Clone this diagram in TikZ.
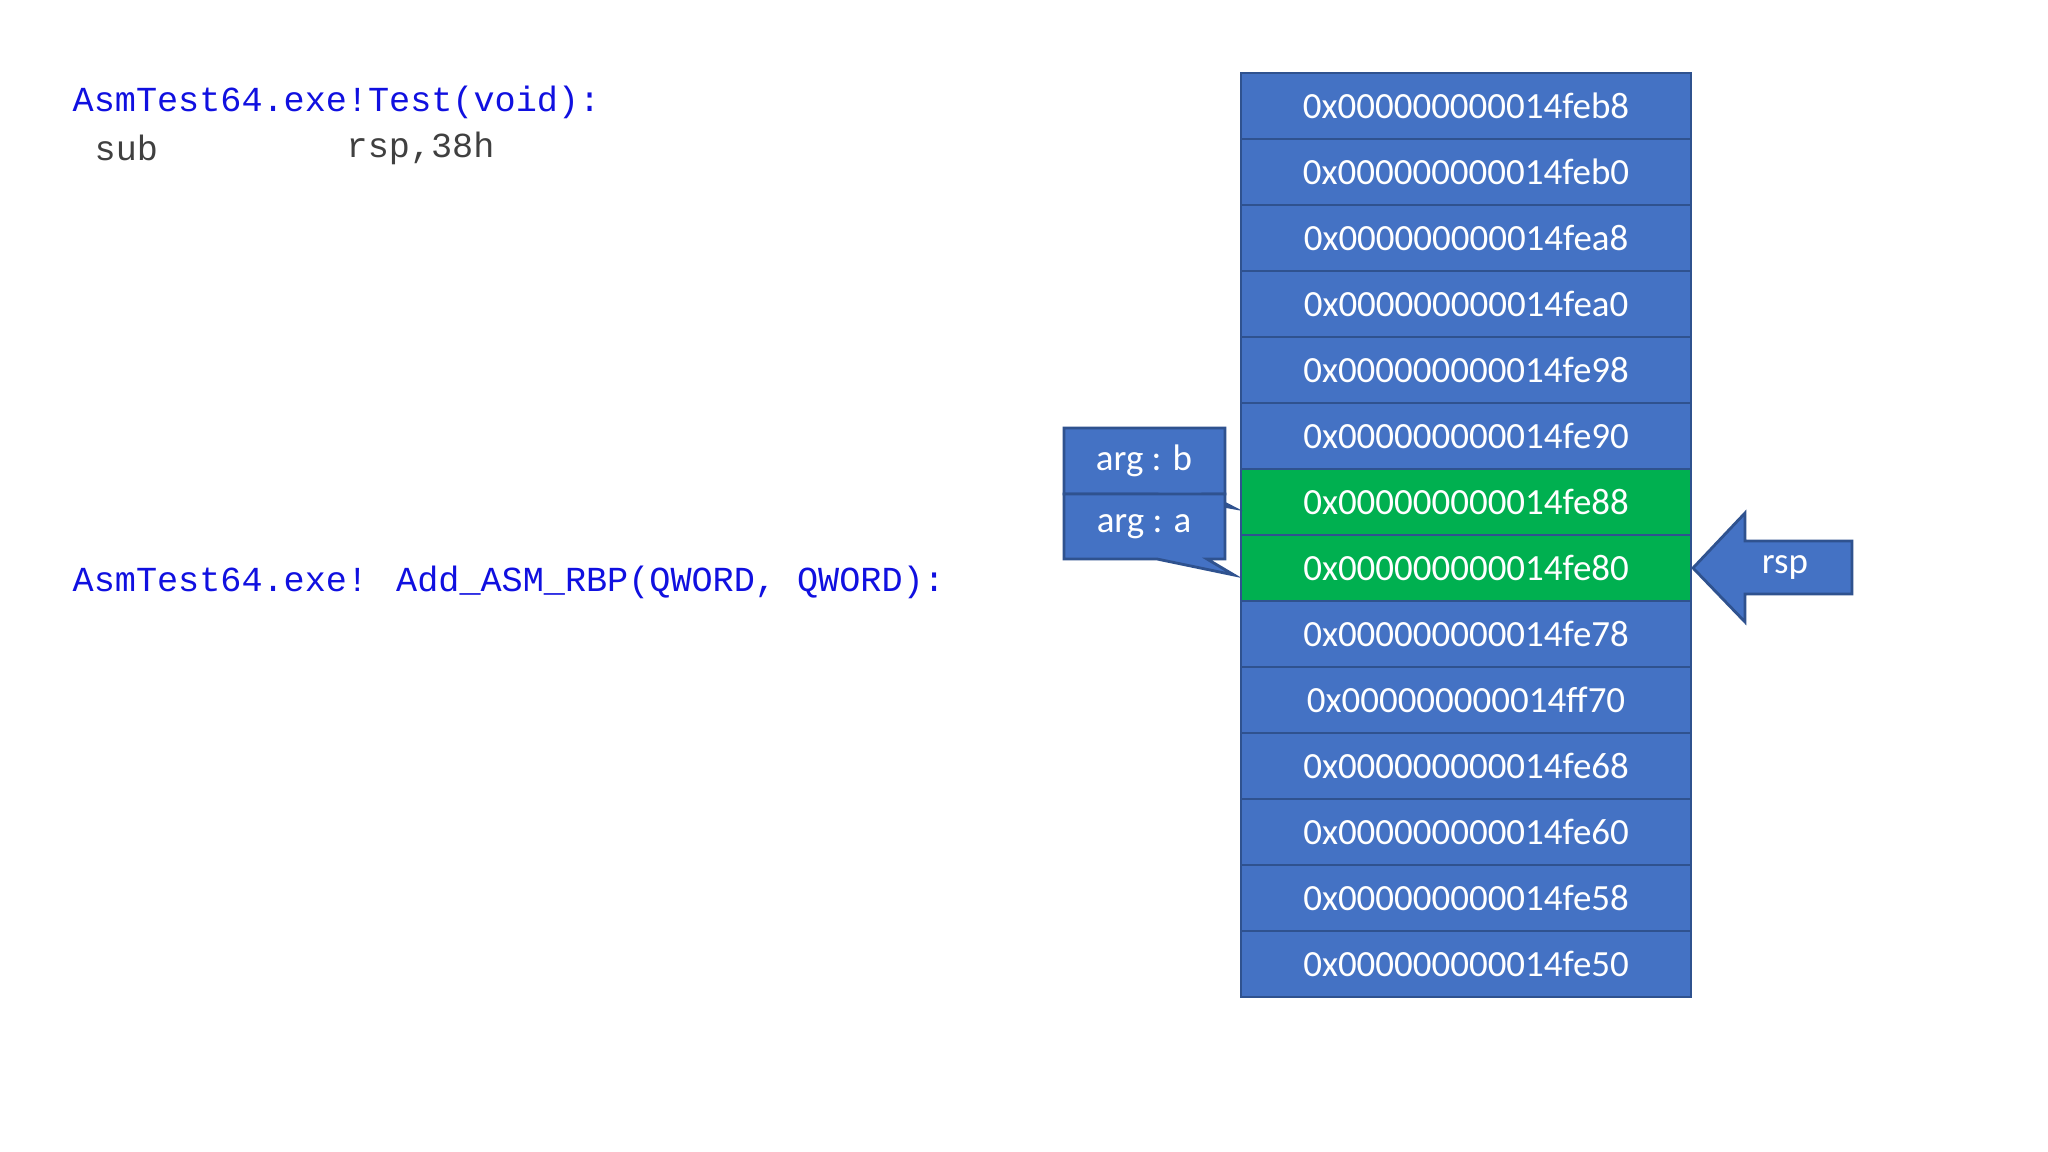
\documentclass[tikz,border=0pt]{standalone}
\usepackage{fontspec}
\setmainfont{Carlito}
\newfontfamily\codefont{Liberation Mono}
\begin{document}
\begin{tikzpicture}[x=0.01cm,y=-0.01cm,
  cell/.style={draw=bordc,line width=0.8pt,fill=stk,minimum width=450\pgflinewidth,text=white,font=\fontsize{10.5}{12}\selectfont},
  code/.style={anchor=west,inner sep=0,font=\codefont\fontsize{10}{12}\selectfont},
  shp/.style={draw=bordc,line width=0.8pt,fill=stk},
  lbl/.style={text=white,font=\fontsize{10.5}{12}\selectfont}]
\definecolor{stk}{HTML}{4472C4}
\definecolor{bordc}{HTML}{2F528F}
\definecolor{grn}{HTML}{00B050}
\definecolor{codeblue}{HTML}{1010E0}
\definecolor{codegray}{HTML}{404040}
\useasboundingbox (0,0) rectangle (2048,1152);
\fill[white] (0,0) rectangle (2048,1152);
% code text
\node[code,text=codeblue] (t1) at (72,102) {AsmTest64.exe!Test(void):};
\node[code,text=codegray] (t2) at (94,148) {sub};
\node[code,text=codegray] (t3) at (346,148) {rsp,38h};
\node[code,text=codeblue] (t4) at (72,582) {AsmTest64.exe! Add\_ASM\_RBP(QWORD, QWORD):};
% stack
\foreach \i/\t/\c in {0/0x000000000014feb8/stk,1/0x000000000014feb0/stk,2/0x000000000014fea8/stk,3/0x000000000014fea0/stk,4/0x000000000014fe98/stk,5/0x000000000014fe90/stk,6/0x000000000014fe88/grn,7/0x000000000014fe80/grn,8/0x000000000014fe78/stk,9/0x000000000014ff70/stk,10/0x000000000014fe68/stk,11/0x000000000014fe60/stk,12/0x000000000014fe58/stk,13/0x000000000014fe50/stk}{
  \filldraw[draw=bordc,line width=0.8pt,fill=\c] (1241,73+66*\i) rectangle (1691,139+66*\i);
  \node[lbl] (s\i) at (1466,106+66*\i) {\t};
}
% callouts
\filldraw[shp] (1064,428) -- (1225,428) -- (1225,494) -- (1207,494) -- (1234,508) -- (1157,494) -- (1064,494) -- cycle;
\node[lbl] (cb) at (1144,461) {arg : b};
\filldraw[shp] (1064,494) -- (1225,494) -- (1225,559) -- (1207,559) -- (1234,575) -- (1157,559) -- (1064,559) -- cycle;
\node[lbl] (ca) at (1144,527) {arg : a};
% rsp arrow
\filldraw[shp] (1693,568) -- (1745,513) -- (1745,541) -- (1852,541) -- (1852,594) -- (1745,594) -- (1745,622) -- cycle;
\node[lbl] (rsp) at (1785,568) {rsp};
\end{tikzpicture}
\end{document}
